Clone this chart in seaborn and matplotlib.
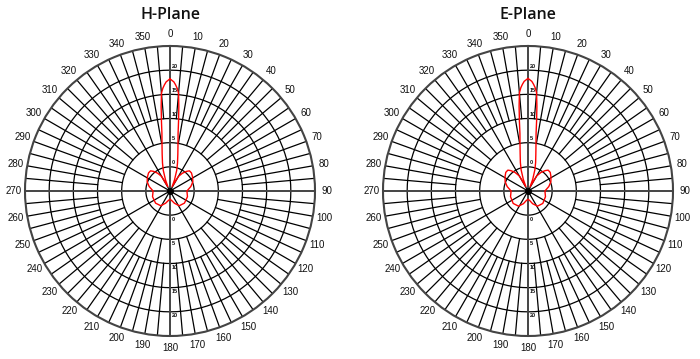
import numpy as np
import pandas as pd
import matplotlib
matplotlib.use("Agg")
import matplotlib.pyplot as plt
import seaborn as sns

# --- data (angle in degrees, level in dB) ---
angles_deg = [0, 2, 3, 4, 5, 6, 7, 8, 10, 12, 15, 18, 22, 26, 30, 35, 40, 44, 50, 58,
              68, 78, 90, 108, 130, 148, 160, 170, 180, 190, 200, 212, 230, 252, 270,
              282, 292, 302, 310, 316, 320, 325, 330, 334, 338, 342, 345, 348, 350,
              352, 353, 354, 355, 356, 357, 358, 360]

h_plane_db = [18.2, 17.6, 17.0, 16.3, 15.3, 12.5, 9.5, 7.0, 4.5, 2.8, 1.0, -0.5, -2.5,
              -4.0, -1.5, -0.5, 0.3, 0.8, 0.8, 0.5, 0.1, -0.6, -1.5, -1.2, -1.1, -1.4,
              -2.3, -3.0, -3.3, -3.0, -2.3, -1.4, -1.1, -1.2, -1.5, -0.6, 0.1, 0.5, 0.8,
              0.8, 0.3, -0.5, -1.5, -4.0, -2.5, -0.5, 1.0, 2.8, 4.5, 7.0, 9.5, 12.5,
              15.3, 16.3, 17.0, 17.6, 18.2]

e_plane_db = [18.3, 17.7, 17.1, 16.4, 15.4, 12.6, 9.6, 7.0, 4.5, 2.8, 1.1, -0.4, -2.4,
              -4.0, -1.4, -0.3, 0.5, 1.0, 1.0, 0.6, 0.1, -0.6, -1.5, -1.2, -1.0, -1.3,
              -2.2, -3.0, -3.3, -3.0, -2.2, -1.3, -1.0, -1.2, -1.5, -0.6, 0.1, 0.6, 1.0,
              1.0, 0.5, -0.3, -1.4, -4.0, -2.4, -0.4, 1.1, 2.8, 4.5, 7.0, 9.6, 12.6,
              15.4, 16.4, 17.1, 17.7, 18.3]

titles = ["H-Plane", "E-Plane"]
ring_levels = [0, 5, 10, 15, 20]
theta_labels = [str(a) for a in range(0, 360, 10)]

R_MIN, R_MAX = -5, 25

sns.set_style("white")
plt.rcParams['font.family'] = ['Liberation Sans', 'DejaVu Sans']

fig = plt.figure(figsize=(7.0, 3.59), dpi=100)

# axes boxes (center at x=170 / 528 px, y=191 px, radius 145 px)
W, H = 700, 359
rad = 145
centers = [(170, 191), (528, 191)]


def draw_grid(ax):
    grid_kw = dict(color='black', lw=0.9, zorder=1)
    axis_kw = dict(color='#444444', lw=1.4, zorder=1)
    full = np.linspace(0, 2 * np.pi, 361)
    for lev in ring_levels:
        ax.plot(full, np.full_like(full, lev), **grid_kw)
    for a in range(0, 360, 5):
        t = np.deg2rad(a)
        if a % 90 == 0:
            ax.plot([t, t], [R_MIN, R_MAX], **axis_kw)
        elif a % 30 == 0:
            ax.plot([t, t], [R_MIN, R_MAX], **grid_kw)
        elif a % 10 == 0:
            ax.plot([t, t], [5, R_MAX], **grid_kw)
        else:
            ax.plot([t, t], [10, R_MAX], **grid_kw)
    # level labels along 0 and 180 deg
    for lev in ring_levels:
        for t in (0, np.pi):
            ax.annotate(str(lev), xy=(t, lev + 0.8), xytext=(1.5, 0),
                        textcoords='offset points', ha='left', va='center',
                        fontsize=4, fontweight='bold', color='#111111', zorder=3)


for i, (title, values) in enumerate(zip(titles, [h_plane_db, e_plane_db])):
    cx, cy = centers[i]
    ax = fig.add_axes([(cx - rad) / W, (H - cy - rad) / H, 2 * rad / W, 2 * rad / H],
                      projection='polar')
    ax.set_theta_zero_location('N')
    ax.set_theta_direction(-1)
    ax.set_ylim(R_MIN, R_MAX)
    ax.grid(False)
    ax.set_yticks([])
    ax.set_xticks(np.deg2rad(np.arange(0, 360, 10)))
    ax.set_xticklabels(theta_labels, fontsize=7, color='#111111')
    ax.tick_params(axis='x', pad=-2)
    ax.spines['polar'].set_color('#444444')
    ax.spines['polar'].set_linewidth(1.5)

    draw_grid(ax)

    df = pd.DataFrame({'theta': np.deg2rad(angles_deg), 'level': values})
    sns.lineplot(data=df, x='theta', y='level', ax=ax, sort=False, estimator=None,
                 color='red', lw=1.0, zorder=4)
    ax.plot([0], [R_MIN], 'o', color='black', ms=4, zorder=5)
    ax.set_xlabel('')
    ax.set_ylabel('')
    ax.set_ylim(R_MIN, R_MAX)

    fig.text(cx / W, 1 - 15 / H, title, ha='center', va='center', fontsize=11.5,
             fontweight='semibold', family=['Open Sans', 'DejaVu Sans'], color='#111111')

fig.savefig("out.png", dpi=100)
